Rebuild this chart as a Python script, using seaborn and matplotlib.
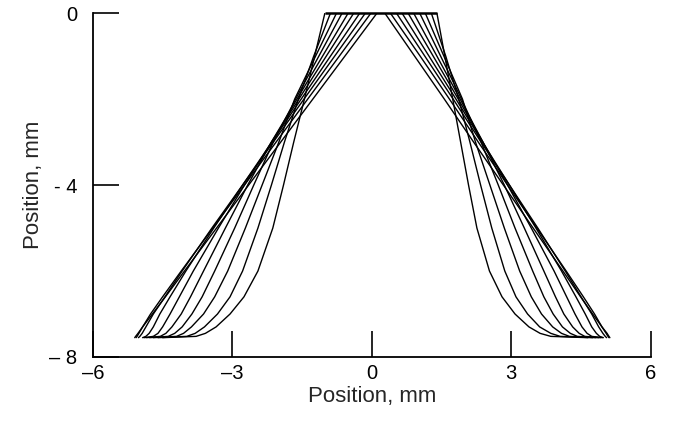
import pandas as pd
import matplotlib
matplotlib.use("Agg")
import matplotlib.pyplot as plt
import seaborn as sns

# === Data ===
# depth levels (mm) shared by every profile, then a flat tail point on the floor
depth = [0, -1, -2, -3, -4, -5, -6, -6.6, -7.0, -7.3, -7.45, -7.52]
tail_depth = -7.55

# left-hand profiles, x (mm) at each depth level
left_profiles = [
    [-1.01, -1.23, -1.45, -1.68, -1.90, -2.13, -2.45, -2.75, -3.05, -3.35, -3.58, -3.78],
    [-0.89, -1.25, -1.58, -1.88, -2.16, -2.45, -2.78, -3.05, -3.32, -3.60, -3.80, -3.98],
    [-0.76, -1.21, -1.66, -2.00, -2.36, -2.72, -3.10, -3.38, -3.62, -3.88, -4.05, -4.20],
    [-0.64, -1.14, -1.64, -2.12, -2.54, -2.95, -3.38, -3.65, -3.87, -4.08, -4.24, -4.38],
    [-0.51, -1.06, -1.61, -2.16, -2.67, -3.15, -3.62, -3.90, -4.10, -4.30, -4.43, -4.55],
    [-0.39, -0.98, -1.57, -2.16, -2.74, -3.30, -3.84, -4.14, -4.34, -4.50, -4.60, -4.70],
    [-0.26, -0.89, -1.52, -2.15, -2.78, -3.40, -4.00, -4.34, -4.56, -4.70, -4.79, -4.86],
    [-0.14, -0.80, -1.46, -2.12, -2.78, -3.44, -4.08, -4.45, -4.70, -4.86, -4.94, -4.99],
    [-0.02, -0.70, -1.38, -2.06, -2.74, -3.42, -4.10, -4.50, -4.76, -4.93, -5.01, -5.05],
    [0.11, -0.58, -1.27, -1.96, -2.65, -3.34, -4.03, -4.44, -4.72, -4.93, -5.03, -5.08],
]
left_tail = [-4.50, -4.60, -4.70, -4.78, -4.85, -4.90, -4.93, -5.02, -5.07, -5.10]

# right-hand profiles
right_profiles = [
    [1.40, 1.57, 1.74, 1.91, 2.08, 2.26, 2.53, 2.80, 3.08, 3.38, 3.62, 3.85],
    [1.28, 1.59, 1.87, 2.11, 2.34, 2.58, 2.86, 3.10, 3.35, 3.61, 3.85, 4.05],
    [1.15, 1.55, 1.95, 2.23, 2.54, 2.85, 3.18, 3.43, 3.65, 3.89, 4.08, 4.25],
    [1.03, 1.48, 1.93, 2.35, 2.72, 3.08, 3.46, 3.70, 3.90, 4.10, 4.27, 4.42],
    [0.90, 1.40, 1.90, 2.39, 2.85, 3.28, 3.70, 3.95, 4.13, 4.32, 4.46, 4.58],
    [0.78, 1.32, 1.86, 2.39, 2.92, 3.43, 3.92, 4.19, 4.37, 4.52, 4.63, 4.73],
    [0.65, 1.23, 1.81, 2.38, 2.96, 3.53, 4.08, 4.39, 4.59, 4.73, 4.83, 4.90],
    [0.53, 1.14, 1.75, 2.35, 2.96, 3.57, 4.16, 4.50, 4.73, 4.88, 4.97, 5.02],
    [0.40, 1.04, 1.67, 2.29, 2.92, 3.55, 4.18, 4.55, 4.79, 4.95, 5.04, 5.08],
    [0.28, 0.92, 1.56, 2.19, 2.83, 3.47, 4.11, 4.49, 4.75, 4.95, 5.06, 5.10],
]
right_tail = [4.65, 4.75, 4.82, 4.88, 4.92, 4.96, 4.98, 5.05, 5.10, 5.12]

# flat top edge
top_x = [-1.01, 1.40]
top_y = [0, 0]

x_ticks = [-6, -3, 0, 3, 6]
x_labels = ["\u20136", "\u20133", "0", "3", "6"]
y_ticks = [-8, -4, 0]
y_labels = ["\u2013 8", "- 4", "0"]

# === Long table, one unit per profile ===
rows = []
for side, profiles, tails in [("L", left_profiles, left_tail), ("R", right_profiles, right_tail)]:
    for i, xs in enumerate(profiles):
        for k, (xv, yv) in enumerate(zip(xs + [tails[i]], depth + [tail_depth])):
            rows.append({"curve": f"{side}{i}", "order": k, "x": xv, "y": yv})
df = pd.DataFrame(rows)

sns.set_style("ticks")
plt.rcParams["font.family"] = ["Liberation Sans", "DejaVu Sans"]

fig = plt.figure(figsize=(6.73, 4.25), dpi=100)
ax = fig.add_axes([0.138, 0.16, 0.829, 0.809])

sns.lineplot(data=df, x="x", y="y", units="curve", estimator=None, sort=False,
             color="black", linewidth=1.0, ax=ax, legend=False)
ax.plot(top_x, top_y, color="black", linewidth=1.8, solid_capstyle="butt", clip_on=False)

ax.set_xlim(-6, 6)
ax.set_ylim(-8, 0)
ax.set_xticks(x_ticks)
ax.set_xticklabels(x_labels)
ax.set_yticks(y_ticks)
ax.set_yticklabels(y_labels)
ax.tick_params(direction="in", length=19, width=1.2, colors="black", labelsize=14.5,
               bottom=True, left=True, top=False, right=False)
ax.tick_params(axis="x", pad=5)
ax.tick_params(axis="y", pad=11)
ax.set_xlabel("Position, mm", fontsize=16, labelpad=2)
ax.set_ylabel("Position, mm", fontsize=16, labelpad=4)

sns.despine(ax=ax)
for s in ["left", "bottom"]:
    ax.spines[s].set_linewidth(1.3)
    ax.spines[s].set_color("black")

fig.savefig("out.png", dpi=100)
